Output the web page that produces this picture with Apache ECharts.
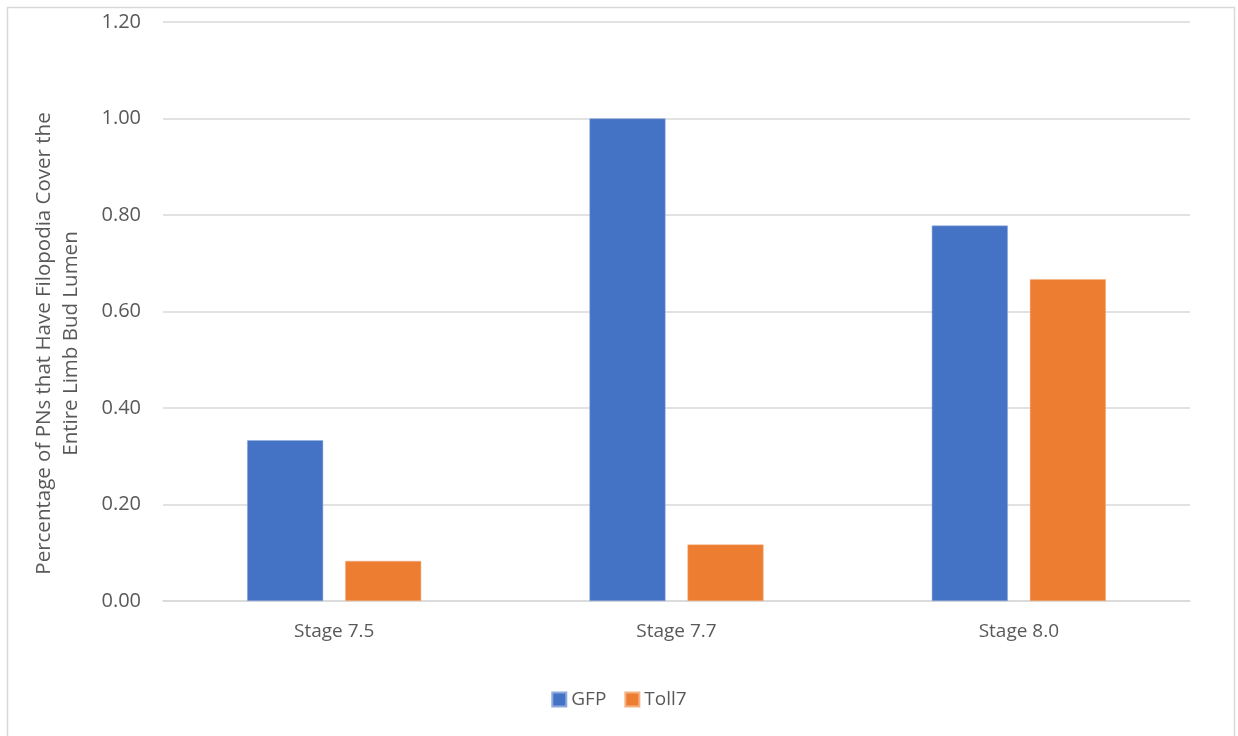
<!DOCTYPE html>
<html>
<head>
<meta charset="utf-8">
<script src="https://cdn.jsdelivr.net/npm/echarts@6/dist/echarts.min.js"></script>
<style>
  html, body { margin: 0; padding: 0; background: #fff; }
  #container { width: 1238px; height: 736px; }
</style>
</head>
<body>
<div id="container"></div>
<script>
var stages = ['Stage 7.5', 'Stage 7.7', 'Stage 8.0'];
var gfp = [0.333, 1.0, 0.778];
var toll7 = [0.083, 0.117, 0.667];
var yTicks = { min: 0, max: 1.2, interval: 0.2 };

var myChart = echarts.init(document.getElementById('container'));
var font = 'Open Sans';
var option = {
    animation: false,
    textStyle: { fontFamily: font },
    graphic: [{
        type: 'rect',
        shape: { x: 7.5, y: 7.5, width: 1227, height: 740 },
        style: { fill: 'none', stroke: '#d9d9d9', lineWidth: 1.5 },
        silent: true
    }],
    grid: { left: 163, right: 48, top: 22, bottom: 135, containLabel: false, outerBoundsMode: 'none' },
    legend: {
        data: ['GFP', 'Toll7'],
        top: 685,
        left: 'center',
        itemWidth: 14,
        itemHeight: 14,
        itemGap: 18,
        icon: 'rect',
        textStyle: { color: '#595959', fontSize: 19, fontFamily: font }
    },
    xAxis: {
        type: 'category',
        data: stages,
        axisLine: { lineStyle: { color: '#d9d9d9', width: 1.5 } },
        axisTick: { show: false },
        axisLabel: { color: '#595959', fontSize: 19, margin: 21, fontFamily: font }
    },
    yAxis: {
        type: 'value',
        min: yTicks.min,
        max: yTicks.max,
        interval: yTicks.interval,
        name: 'Percentage of PNs that Have Filopodia Cover the\nEntire Limb Bud Lumen',
        nameLocation: 'middle',
        nameGap: 78,
        nameTextStyle: { color: '#595959', fontSize: 20.5, lineHeight: 27, fontFamily: font, padding: [0, 64, 0, 0] },
        axisLine: { show: false },
        axisTick: { show: false },
        splitLine: { lineStyle: { color: '#d9d9d9', width: 1.5 } },
        axisLabel: {
            color: '#595959', fontSize: 20, margin: 22, fontFamily: font,
            formatter: function (v) { return v.toFixed(2); }
        }
    },
    series: [{
        name: 'GFP',
        type: 'bar',
        data: gfp,
        barWidth: 76,
        barGap: '29%',
        itemStyle: { color: '#4472c4', borderColor: '#8faadc', borderWidth: 0.5 }
    }, {
        name: 'Toll7',
        type: 'bar',
        data: toll7,
        barWidth: 76,
        itemStyle: { color: '#ed7d31', borderColor: '#f4b183', borderWidth: 0.5 }
    }]
};
myChart.setOption(option);
</script>
</body>
</html>
